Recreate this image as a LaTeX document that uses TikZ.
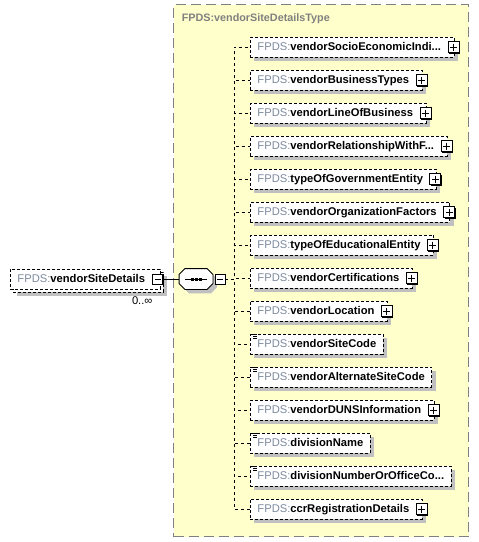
\documentclass[tikz,border=0pt]{standalone}
\usepackage{fontspec}
\setmainfont{Liberation Sans}
\usetikzlibrary{shadows}

\definecolor{typefill}{RGB}{255,255,204}
\definecolor{typeline}{RGB}{128,128,128}
\definecolor{nsgray}{RGB}{125,138,158}
\definecolor{shadowgray}{RGB}{192,192,192}

% namespace prefix in gray, element name in bold
\newcommand{\fpds}[1]{{\color{nsgray}FPDS:}\textbf{#1}}

\begin{document}
\begin{tikzpicture}[x = 1pt, y = -1pt, % one unit per pixel, y runs down
                font = \fontsize{11.2}{13}\selectfont,
                line width = 0.9pt % line style
            ]

            \tikzstyle{box}=[draw = black, dash pattern = on 3pt off 2pt, fill = white,
            anchor = west, minimum height = 20pt, inner xsep = 7pt, inner ysep = 0pt,
            text height = 8pt, text depth = 2pt]
            \tikzstyle{dropped}=[general shadow = {fill = shadowgray,
            shadow xshift = 4pt, shadow yshift = -4pt}]
            \tikzstyle{elem}=[box, dropped]
            \tikzstyle{cplx}=[elem, execute at end node = \hspace{6pt}]
            \tikzstyle{expand}=[draw = black, solid, fill = white, minimum size = 11pt,
            inner sep = 0pt, general shadow = {fill = black, shadow xshift = 1pt,
            shadow yshift = -1pt}, path picture = {\draw
            ([xshift = 2pt]path picture bounding box.west) --
            ([xshift = -2pt]path picture bounding box.east)
            ([yshift = -2pt]path picture bounding box.north) --
            ([yshift = 2pt]path picture bounding box.south);}]
            \tikzstyle{collapse}=[draw = black, solid, fill = white, minimum size = 10pt,
            inner sep = 0pt, general shadow = {fill = black, shadow xshift = 1pt,
            shadow yshift = -1pt}, path picture = {\draw
            ([xshift = 2pt]path picture bounding box.west) --
            ([xshift = -2pt]path picture bounding box.east);}]
            \tikzstyle{seq}=[minimum width = 33pt, minimum height = 20pt, inner sep = 0pt]
            \tikzstyle{typebox}=[draw = typeline, fill = typefill,
            dash pattern = on 10pt off 5pt, line width = 1.4pt, anchor = north west,
            minimum width = 295pt, minimum height = 532pt]

            \useasboundingbox (0,0) rectangle (479,542);

            % the complex type
            \node[typebox] (typ) at (173,4) {};
            \node[anchor = west, text = typeline, font = \fontsize{10.8}{13}\selectfont\bfseries]
            (title) at (178,19) {FPDS:vendorSiteDetailsType};

            % the element itself
            \node[elem, minimum width = 150pt] (back) at (13,282) {};
            \node[box, text width = 136pt, align = left] (root) at (10,279)
            {\fpds{vendorSiteDetails}};
            \node[collapse] (m0) at ([xshift = -3pt]root.east) {};
            \node[anchor = north east, inner sep = 0pt] (occ)
            at ([xshift = -8pt, yshift = -7pt]root.south east) {0..∞};

            % sequence compositor
            \node[seq] (seq) at (196,279) {};
            \draw[fill = white, dropped] ([xshift = 6pt]seq.north west)
            -- ([xshift = -6pt]seq.north east) -- ([yshift = -6pt]seq.north east)
            -- ([yshift = 6pt]seq.south east) -- ([xshift = -6pt]seq.south east)
            -- ([xshift = 6pt]seq.south west) -- ([yshift = 6pt]seq.south west)
            -- ([yshift = -6pt]seq.north west) -- cycle;
            \draw ([xshift = 6pt]seq.west) -- ([xshift = -6pt]seq.east);
            \foreach \d in {-4,0,4}
                \fill ([xshift = \d pt]seq.center) +(-1.5,-1.5) rectangle +(1.5,1.5);
            \node[collapse] (ms) at (220,279) {};
            \draw (m0) -- (seq);

            % children of the sequence
            \node[cplx] (c1) at (250,47) {\fpds{vendorSocioEconomicIndi...}};
            \node[cplx] (c2) at (250,80) {\fpds{vendorBusinessTypes}};
            \node[cplx] (c3) at (250,113) {\fpds{vendorLineOfBusiness}};
            \node[cplx] (c4) at (250,146) {\fpds{vendorRelationshipWithF...}};
            \node[cplx] (c5) at (250,179) {\fpds{typeOfGovernmentEntity}};
            \node[cplx] (c6) at (250,212) {\fpds{vendorOrganizationFactors}};
            \node[cplx] (c7) at (250,245) {\fpds{typeOfEducationalEntity}};
            \node[cplx] (c8) at (250,278) {\fpds{vendorCertifications}};
            \node[cplx] (c9) at (250,311) {\fpds{vendorLocation}};
            \node[elem] (c10) at (250,344) {\fpds{vendorSiteCode}};
            \node[elem] (c11) at (250,377) {\fpds{vendorAlternateSiteCode}};
            \node[cplx] (c12) at (250,410) {\fpds{vendorDUNSInformation}};
            \node[elem] (c13) at (250,443) {\fpds{divisionName}};
            \node[elem] (c14) at (250,476) {\fpds{divisionNumberOrOfficeCo...}};
            \node[cplx] (c15) at (250,509) {\fpds{ccrRegistrationDetails}};

            \foreach \i in {1,...,9,12,15}
                \node[expand] (p\i) at ([xshift = -1pt]c\i.east) {};
            \foreach \i in {10,11,13,14}
                \draw[line width = 0.8pt] ([xshift = 1pt, yshift = -1pt]c\i.north west)
                -- ++(6,0) ++(-4,2) -- ++(4,0) ++(-4,2) -- ++(4,0);

            \foreach \i in {1,...,15}
                \draw[dashed] (ms.east) -- ++(9,0) |- (c\i.west);

        \end{tikzpicture}
\end{document}
